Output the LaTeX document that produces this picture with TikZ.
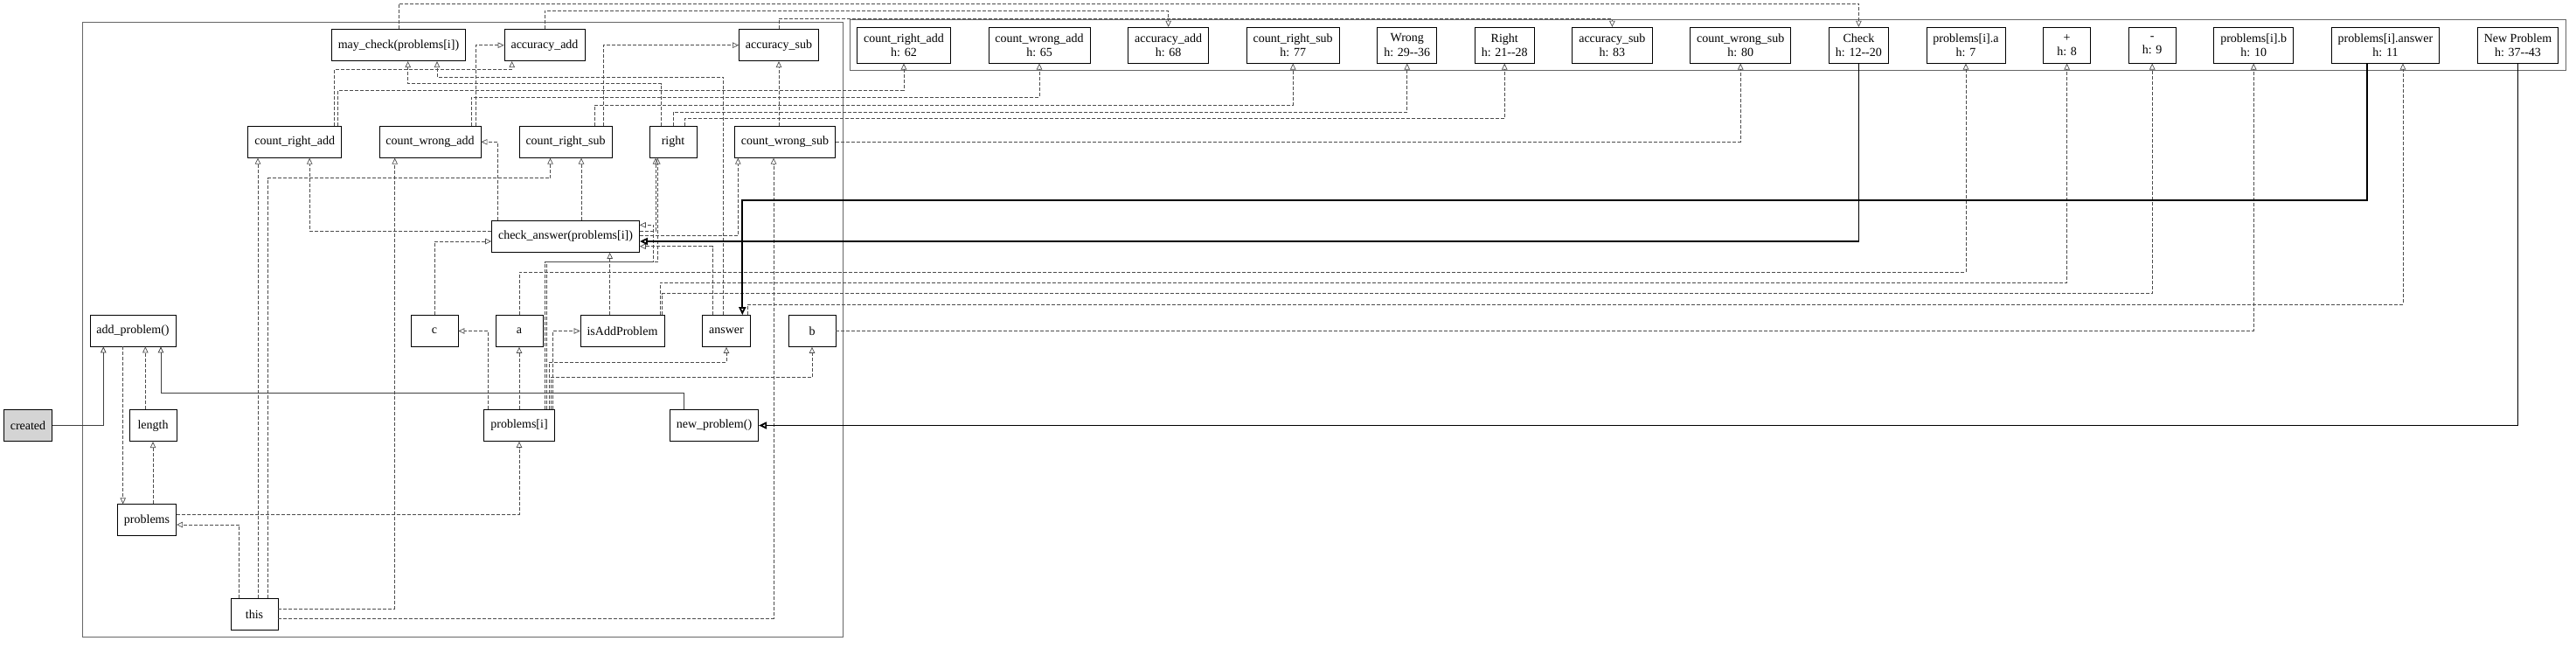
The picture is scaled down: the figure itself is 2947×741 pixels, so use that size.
\documentclass[tikz,border=0pt]{standalone}
\usepackage{fontspec}
\setmainfont{Liberation Serif}
\usetikzlibrary{positioning}
\usetikzlibrary{arrows.meta}

\begin{document}
\begin{tikzpicture}[
                          x=1pt, y=-1pt, node distance=42.8pt,
                          varbox/.style={rectangle, draw, line width=0.8pt, minimum width=54pt, minimum height=36pt, inner xsep=7.5pt, font=\fontsize{14}{16.8}\selectfont},
                          hbox/.style={varbox, align=center, minimum height=41pt, inner ysep=3pt},
                          inbox/.style={varbox, fill=black!17},
                          cluster/.style={draw=black!60, line width=1pt},
                          dep/.style={draw=black!70, line width=0.7pt, dash pattern=on 4pt off 2pt, -{Triangle[open, length=7pt, width=6.5pt]}},
                          flow/.style={draw=black!75, line width=0.8pt, -{Triangle[open, length=7pt, width=6.5pt]}},
                          ctrl/.style={draw=black, line width=1.8pt, -{Triangle[open, length=9pt, width=8pt]}},
                      ]
                      \useasboundingbox (0,0) rectangle (2947,741);
                      %Clusters
                      \draw[cluster] (94,25.3) rectangle (964,728.3);
                      \draw[cluster] (972.3,22.7) rectangle (2935,80.7);

                      %Nodes
                      \node[varbox] (may)      at (456,51.7)  {may\_check(problems[i])};
                      \node[varbox] (accadd)   at (623,51.7)  {accuracy\_add};
                      \node[varbox] (accsub)   at (891,51.7)  {accuracy\_sub};
                      \node[varbox] (cra)      at (337.2,162.3) {count\_right\_add};
                      \node[varbox] (cwa)      at (492,162.3) {count\_wrong\_add};
                      \node[varbox] (crs)      at (647,162.3) {count\_right\_sub};
                      \node[varbox] (rightv)   at (770,162.3) {right};
                      \node[varbox] (cws)      at (898,162.3) {count\_wrong\_sub};
                      \node[varbox] (check)    at (647,270.5) {check\_answer(problems[i])};
                      \node[varbox] (addp)     at (152,378)   {add\_problem()};
                      \node[varbox] (cvar)     at (497,378.5) {c};
                      \node[varbox] (avar)     at (594,378.5) {a};
                      \node[varbox] (isadd)    at (712,378.5) {isAddProblem};
                      \node[varbox] (answer)   at (831,378.5) {answer};
                      \node[varbox] (bvar)     at (929,378.5) {b};
                      \node[inbox]  (created)  at (32,486.7)  {created};
                      \node[varbox] (length)   at (175,486.7) {length};
                      \node[varbox] (pi)       at (594,486.5) {problems[i]};
                      \node[varbox] (newp)     at (817,486.5) {new\_problem()};
                      \node[varbox] (problems) at (168,594.7) {problems};
                      \node[varbox] (this)     at (291,702.5) {this};

                      \node[hbox] (crah)    at (1034,51.7)        {count\_right\_add\\h: 62};
                      \node[hbox] (cwah)    [right=of crah]       {count\_wrong\_add\\h: 65};
                      \node[hbox] (accaddh) [right=of cwah]       {accuracy\_add\\h: 68};
                      \node[hbox] (crsh)    [right=of accaddh]    {count\_right\_sub\\h: 77};
                      \node[hbox] (wrongh)  [right=of crsh]       {Wrong\\h: 29-{}-36};
                      \node[hbox] (righth)  [right=of wrongh]     {Right\\h: 21-{}-28};
                      \node[hbox] (accsubh) [right=of righth]     {accuracy\_sub\\h: 83};
                      \node[hbox] (cwsh)    [right=of accsubh]    {count\_wrong\_sub\\h: 80};
                      \node[hbox] (checkh)  [right=of cwsh]       {Check\\h: 12-{}-20};
                      \node[hbox] (pah)     [right=of checkh]     {problems[i].a\\h: 7};
                      \node[hbox] (plush)   [right=of pah]        {+\\h: 8};
                      \node[hbox] (minush)  [right=of plush]      {-\\h: 9};
                      \node[hbox] (pbh)     [right=of minush]     {problems[i].b\\h: 10};
                      \node[hbox] (pansh)   [right=of pbh]        {problems[i].answer\\h: 11};
                      \node[hbox] (newh)    [right=of pansh]      {New Problem\\h: 37-{}-43};

                      %Lines
                      \draw[dep] (may.north) -- ++(0,-29.3) -| (checkh.north);
                      \draw[dep] (accadd.north) -- ++(0,-20.7) -| (accaddh.north);
                      \draw[dep] (accsub.north) -- ++(0,-11.7) -| (accsubh.north);
                      \draw[dep] ([xshift=45.5pt]cra.north) -- ++(0,-64.3) -| ([xshift=-37.3pt]accadd.south);
                      \draw[dep] ([xshift=49.5pt]cra.north) -- ++(0,-40.3) -| (crah.south);
                      \draw[dep] ([xshift=52.3pt]cwa.north) |- (accadd.west);
                      \draw[dep] ([xshift=47pt]cwa.north) -- ++(0,-32.6) -| (cwah.south);
                      \draw[dep] ([xshift=43pt]crs.north) |- (accsub.west);
                      \draw[dep] ([xshift=33pt]crs.north) -- ++(0,-23.6) -| (crsh.south);
                      \draw[dep] ([xshift=-13.3pt]rightv.north) -- ++(0,-48.3) -| ([xshift=10.7pt]may.south);
                      \draw[dep] (rightv.north) -- ++(0,-16) -| (wrongh.south);
                      \draw[dep] ([xshift=13.3pt]rightv.north) -- ++(0,-8.3) -| (righth.south);
                      \draw[dep] ([xshift=-3.3pt]answer.north) -- ++(0,-272.2) -| ([xshift=44pt]may.south);
                      \draw[dep] ([xshift=-7pt]cws.north) -- (accsub.south);
                      \draw[dep] (cws.east) -| (cwsh.south);
                      \draw[dep] ([yshift=6.5pt]check.west) -| ([xshift=17pt]cra.south);
                      \draw[dep] ([xshift=-77.7pt]check.north) |- (cwa.east);
                      \draw[dep] ([xshift=18pt]check.north) -- ([xshift=18pt]crs.south);
                      \draw[dep] ([yshift=6.5pt]check.east) -| ([xshift=-20pt]rightv.south);
                      \draw[dep] ([yshift=1.2pt]check.east) -| ([xshift=-53.7pt]cws.south);
                      \draw[dep] ([yshift=-5.2pt]this.east) -| ([xshift=-13pt]cws.south);
                      \draw[dep] ([yshift=6.5pt]this.east) -| ([xshift=-40.3pt]cwa.south);
                      \draw[dep] ([xshift=4pt]this.north) -- ([xshift=-42.2pt]cra.south);
                      \draw[dep] ([xshift=15pt]this.north) -- ++(0,-480.5) -| ([xshift=-17.5pt]crs.south);
                      \draw[dep] ([xshift=-17.3pt]this.north) |- ([yshift=-5.3pt]problems.east);
                      \draw[dep] ([xshift=-11.3pt]addp.south) -- ([xshift=-27.3pt]problems.north);
                      \draw[dep] ([xshift=-8.7pt]length.north) -- ([xshift=14.3pt]addp.south);
                      \draw[dep] ([xshift=7pt]problems.north) -- (length.south);
                      \draw[dep] ([yshift=6.4pt]problems.east) -| (pi.south);
                      \draw[dep] ([xshift=-36pt]pi.north) |- (cvar.east);
                      \draw[dep] (pi.north) -- (avar.south);
                      \draw[dep] ([xshift=38.7pt]pi.north) |- (isadd.west);
                      \draw[dep] ([xshift=34pt]pi.north) -- ++(0,-54.2) -| (answer.south);
                      \draw[dep] ([xshift=36.3pt]pi.north) -- ++(0,-36.8) -| (bvar.south);
                      \draw[dep] ([xshift=29.3pt]pi.north) -- ++(0,-168.5) -| ([xshift=-17.7pt]rightv.south);
                      \draw[dep] ([xshift=31.7pt]pi.north) -- ++(0,-169) -- ++(122,0) |- ([yshift=13.2pt]check.east);
                      \draw[dep] (avar.north) -- ++(0,-48.8) -| (pah.south);
                      \draw[dep] ([xshift=-14.3pt]isadd.north) -- ([xshift=50.7pt]check.south);
                      \draw[dep] ([xshift=43pt]isadd.north) -- ++(0,-37.2) -| (plush.south);
                      \draw[dep] ([xshift=45.3pt]isadd.north) -- ++(0,-24.5) -| (minush.south);
                      \draw[dep] (cvar.north) |- ([yshift=-5.5pt]check.west);
                      \draw[dep] ([xshift=-16pt]answer.north) |- ([yshift=-11.2pt]check.east);
                      \draw[dep] ([xshift=24pt]answer.north) -- ++(0,-12.2) -| ([xshift=20pt]pansh.south);
                      \draw[dep] (bvar.east) -| (pbh.south);
                      \draw[flow] (created.east) -| ([xshift=-33.7pt]addp.south);
                      \draw[flow] ([xshift=-35pt]newp.north) -- ++(0,-18.5) -| ([xshift=32pt]addp.south);
                      \draw[ctrl] (newh.south) |- (newp.east);
                      \draw[ctrl] (checkh.south) |- ([yshift=-5.5pt]check.east);
                      \draw[ctrl] ([xshift=-21pt]pansh.south) -- ++(0,156) -| ([xshift=18.3pt]answer.north);
                  \end{tikzpicture}
\end{document}
